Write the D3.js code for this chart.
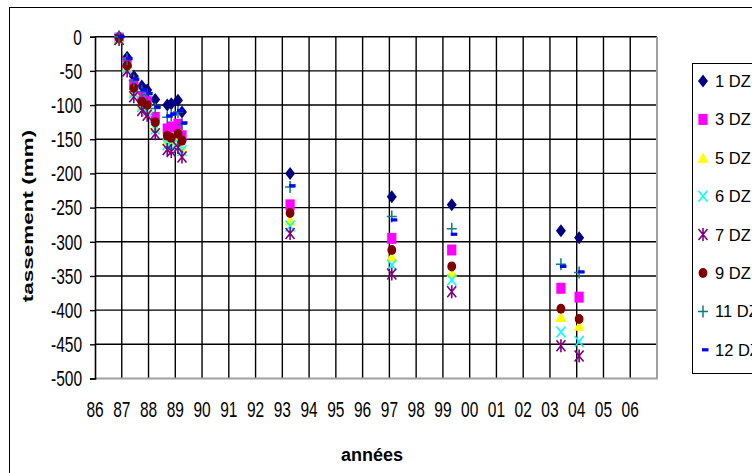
<!DOCTYPE html>
<html>
<head>
<meta charset="utf-8">
<script src="https://cdn.jsdelivr.net/npm/d3@7"></script>
<style>
  body { margin: 0; background: #fff; }
  text { font-family: "Liberation Sans", Arial, sans-serif; }
</style>
</head>
<body>
<script>
// dates of the survey (decimal years)
const dates = [1986.9, 1987.2, 1987.45, 1987.75, 1987.95, 1988.25, 1988.7, 1988.85, 1989.1, 1989.25,
               1993.29, 1997.09, 1999.33, 2003.41, 2004.09];

// settlement (mm) per point
const dz1  = [0, -30, -58, -72, -78, -92, -100, -98, -93, -110, -200, -234, -246, -284, -294];
const dz3  = [-2, -38, -70, -88, -95, -118, -135, -132, -128, -145, -246, -295, -312, -368, -381];
const dz5  = [-3, -44, -80, -100, -105, -132, -152, -156, -150, -162, -269, -322, -345, -410, -423];
const dz6  = [-3, -45, -82, -102, -108, -135, -158, -160, -155, -167, -277, -334, -356, -432, -446];
const dz7  = [-4, -50, -88, -108, -115, -142, -165, -168, -162, -176, -288, -347, -373, -452, -467];
const dz9  = [-2, -42, -75, -95, -100, -125, -145, -148, -142, -152, -258, -312, -336, -398, -413];
const dz11 = [0, -33, -64, -80, -85, -105, -118, -115, -110, -128, -220, -263, -281, -333, -345];
const dz12 = [0, -32, -62, -78, -83, -103, -116, -113, -108, -126, -218, -268, -289, -336, -344];

const seriesNames = ["1 DZ", "3 DZ", "5 DZ", "6 DZ", "7 DZ", "9 DZ", "11 DZ", "12 DZ"];
const seriesValues = [dz1, dz3, dz5, dz6, dz7, dz9, dz11, dz12];

const yTicks = [0, -50, -100, -150, -200, -250, -300, -350, -400, -450, -500];
const xTicks = d3.range(1986, 2007);   // 86 .. 06

// marker styles
const markers = {
  "1 DZ":  {shape: "diamond", color: "#000080"},
  "3 DZ":  {shape: "square", color: "#ff00ff"},
  "5 DZ":  {shape: "triangle", color: "#ffff00"},
  "6 DZ":  {shape: "x", color: "#00ffff"},
  "7 DZ":  {shape: "star", color: "#800080"},
  "9 DZ":  {shape: "circle", color: "#800000"},
  "11 DZ": {shape: "plus", color: "#008080"},
  "12 DZ": {shape: "dash", color: "#0000ff"}
};

const width = 752, height = 473;
const margin = {left: 95, right: 657, top: 36.7, bottom: 378.5};

const svg = d3.select("body").append("svg")
  .attr("width", width)
  .attr("height", height);

const x = d3.scaleLinear().domain([1986, 2007]).range([margin.left, margin.right]);
const y = d3.scaleLinear().domain([0, -500]).range([margin.top, margin.bottom]);

// outer chart border
svg.append("rect")
  .attr("x", 9.5).attr("y", 7.5)
  .attr("width", 800).attr("height", 500)
  .attr("fill", "none").attr("stroke", "#000").attr("stroke-width", 1);

// grid
const grid = svg.append("g");
grid.selectAll("line.v")
  .data(xTicks.slice(1))
  .join("line")
  .attr("x1", d => x(d)).attr("x2", d => x(d))
  .attr("y1", y(0)).attr("y2", y(-500))
  .attr("stroke", "#000").attr("stroke-width", 1.4);
grid.selectAll("line.h")
  .data(yTicks.slice(0, -1))
  .join("line")
  .attr("x1", x(1986)).attr("x2", x(2007))
  .attr("y1", d => y(d)).attr("y2", d => y(d))
  .attr("stroke", "#000").attr("stroke-width", 1.4);

// plot area border (bottom + right, gray)
svg.append("path")
  .attr("d", `M${x(1986)},${y(-500)}H${x(2007)}V${y(0)}`)
  .attr("fill", "none").attr("stroke", "#a0a0a0").attr("stroke-width", 2);

// y axis
const yAxis = d3.axisLeft(y).tickValues(yTicks).tickSize(5).tickFormat("");
const ya = svg.append("g").attr("transform", `translate(${x(1986)},0)`).call(yAxis);
ya.select(".domain").attr("stroke", "#000").attr("stroke-width", 1.6);
ya.selectAll(".tick line").attr("stroke", "#000").attr("stroke-width", 1.4);

svg.append("g").selectAll("text")
  .data(yTicks)
  .join("text")
  .attr("transform", d => `translate(82,${y(d) + 7.8}) scale(1,1.41)`)
  .attr("text-anchor", "end")
  .attr("font-size", 15.5)
  .attr("fill", "#000")
  .text(d => d);

// x tick labels
svg.append("g").selectAll("text")
  .data(xTicks)
  .join("text")
  .attr("transform", d => `translate(${x(d)},417) scale(1,1.41)`)
  .attr("text-anchor", "middle")
  .attr("font-size", 15.5)
  .attr("fill", "#000")
  .text(d => String(d % 100).padStart(2, "0"));

// axis titles
svg.append("text")
  .attr("transform", "translate(32.5,216) scale(1,1.45) rotate(-90)")
  .attr("text-anchor", "middle")
  .attr("font-size", 15.5)
  .attr("font-weight", "bold")
  .text("tassement (mm)");

svg.append("text")
  .attr("x", 372).attr("y", 460.5)
  .attr("text-anchor", "middle")
  .attr("font-size", 18)
  .attr("font-weight", "bold")
  .text("années");

// marker drawing
function drawMarker(g, shape, color) {
  if (shape === "diamond") {
    g.append("path").attr("d", "M0,-6.5L5,0L0,6.5L-5,0Z").attr("fill", color);
  } else if (shape === "square") {
    g.append("rect").attr("x", -4.6).attr("y", -5.5).attr("width", 9.2).attr("height", 11).attr("fill", color);
  } else if (shape === "triangle") {
    g.append("path").attr("d", "M0,-5.5L5.5,5L-5.5,5Z").attr("fill", color);
  } else if (shape === "circle") {
    g.append("ellipse").attr("rx", 4.4).attr("ry", 5).attr("fill", color);
  } else if (shape === "x") {
    g.append("path").attr("d", "M-4.5,-5.5L4.5,5.5M4.5,-5.5L-4.5,5.5")
      .attr("stroke", color).attr("stroke-width", 1.6).attr("fill", "none");
  } else if (shape === "star") {
    g.append("path").attr("d", "M-4.5,-5.5L4.5,5.5M4.5,-5.5L-4.5,5.5M0,-6.5V6.5")
      .attr("stroke", color).attr("stroke-width", 1.6).attr("fill", "none");
  } else if (shape === "plus") {
    g.append("path").attr("d", "M-5,0H5M0,-6V6")
      .attr("stroke", color).attr("stroke-width", 1.5).attr("fill", "none");
  } else if (shape === "dash") {
    g.append("rect").attr("x", -1).attr("y", -1.6).attr("width", 6.5).attr("height", 3.2).attr("fill", color);
  }
}

// points
seriesNames.forEach((name, i) => {
  const m = markers[name];
  const g = svg.append("g");
  seriesValues[i].forEach((v, j) => {
    const p = g.append("g").attr("transform", `translate(${x(dates[j])},${y(v)})`);
    drawMarker(p, m.shape, m.color);
  });
});

// legend
const legend = svg.append("g");
legend.append("rect")
  .attr("x", 692.5).attr("y", 63.5)
  .attr("width", 100).attr("height", 310)
  .attr("fill", "#fff").attr("stroke", "#000").attr("stroke-width", 1);

seriesNames.forEach((name, i) => {
  const cy = 81 + i * 38.4;
  const m = markers[name];
  const p = legend.append("g").attr("transform", `translate(703,${cy})`);
  drawMarker(p, m.shape, m.color);
  legend.append("text")
    .attr("x", 715).attr("y", cy + 6)
    .attr("font-size", 16.5)
    .attr("fill", "#000")
    .text(name);
});
</script>
</body>
</html>
